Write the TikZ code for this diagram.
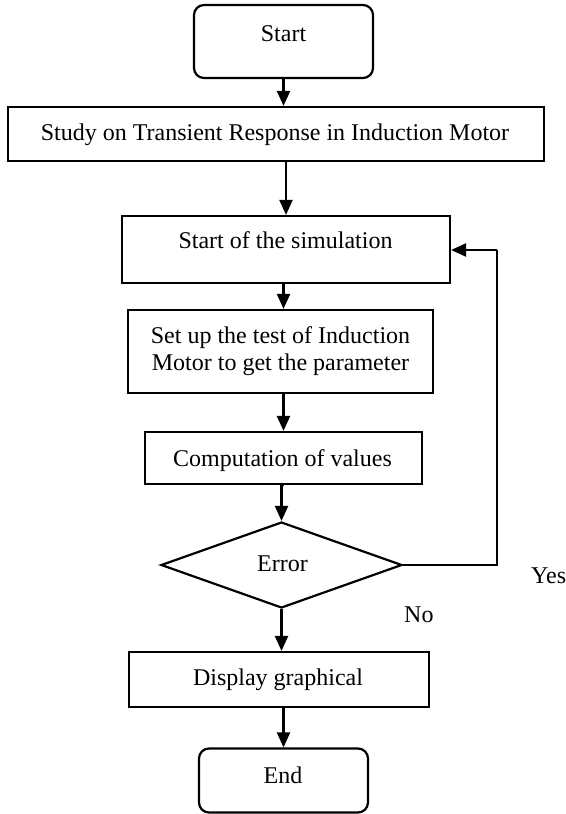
\documentclass[tikz,border=0pt]{standalone}
\usepackage{fontspec}
\setmainfont{Liberation Serif}
\usetikzlibrary{shapes.geometric,arrows.meta}
\tikzset{
  box/.style={draw, line width=2.2pt, inner sep=0pt, rectangle},
  roundbox/.style={box, rounded corners=10pt},
  decision/.style={draw, line width=2.2pt, shape=diamond, inner sep=0pt, aspect=2.8},
  txt/.style={anchor=base, inner sep=0pt, font=\fontsize{24}{27}\selectfont},
  arr/.style={line width=2.2pt, -{Triangle[length=15pt,width=13pt]}},
  line/.style={line width=2.2pt}
}
\begin{document}
\begin{tikzpicture}[x=1pt,y=-1pt]
\useasboundingbox (0,0) rectangle (565,814);
% boxes
\node[roundbox, minimum width=179pt, minimum height=73pt] (start) at (283.5,41.5) {};
\node[box, minimum width=536pt, minimum height=54pt] (study) at (276,134) {};
\node[box, minimum width=328pt, minimum height=67pt] (sim) at (286,249.5) {};
\node[box, minimum width=305pt, minimum height=83pt] (setup) at (280.5,351.5) {};
\node[box, minimum width=277pt, minimum height=52pt] (comp) at (283.5,458) {};
\node[decision, minimum width=241pt, minimum height=86pt] (err) at (281.5,565) {};
\node[box, minimum width=300pt, minimum height=55pt] (disp) at (279,679.5) {};
\node[roundbox, minimum width=169pt, minimum height=64pt] (end) at (283.5,780.5) {};
% texts
\node[txt] (tstart) at (283.5,41) {Start};
\node[txt] (tstudy) at (275,140) {Study on Transient Response in Induction Motor};
\node[txt] (tsim) at (285.5,248) {Start of the simulation};
\node[txt] (tsetupa) at (280.5,343) {Set up the test of Induction};
\node[txt] (tsetupb) at (280.5,370) {Motor to get the parameter};
\node[txt] (tcomp) at (282.5,466) {Computation of values};
\node[txt] (terr) at (282.5,571) {Error};
\node[txt] (tdisp) at (278,685) {Display graphical};
\node[txt] (tend) at (283,783) {End};
\node[txt, anchor=base west] (tyes) at (531,583) {Yes};
\node[txt, anchor=base west] (tno) at (404,622) {No};
% connectors
\draw[arr] (start.south) -- (start.south |- study.north);
\draw[arr] (sim.north |- study.south) -- (sim.north);
\draw[arr] (comp.north |- sim.south) -- (comp.north |- setup.north);
\draw[arr] (comp.north |- setup.south) -- (comp.north);
\draw[arr] (comp.south) -- (comp.south -| err.north) -- (err.north);
\draw[arr] (err.south) -- (err.south |- disp.north);
\draw[arr] (end.north |- disp.south) -- (end.north);
\coordinate (fb1) at (497,565);
\coordinate (fb2) at (497,250);
\draw[line] (err.east) -- (fb1) -- (fb2);
\draw[arr] (fb2) -- (fb2 -| sim.east);
\end{tikzpicture}
\end{document}
